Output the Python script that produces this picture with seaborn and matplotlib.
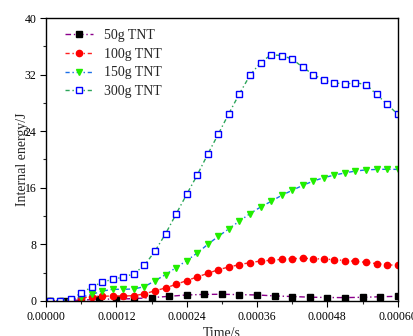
import matplotlib
matplotlib.use("Agg")
import matplotlib.pyplot as plt
from matplotlib.ticker import MultipleLocator, FormatStrFormatter
import numpy as np
import pandas as pd
import seaborn as sns

# Sample times in microseconds
time_us = [6, 24, 42, 60, 78, 96, 114, 132, 150, 168, 186, 204, 222, 240, 258, 276, 294,
           312, 330, 348, 366, 384, 402, 420, 438, 456, 474, 492, 510, 528, 546, 564, 582, 600]
time_us_50g = [6, 30, 60, 90, 120, 150, 180, 210, 240, 270, 300, 330, 360, 390, 420, 450,
               480, 510, 540, 570, 600]

# Internal energy (J) for each charge mass
energy_50g = [0.0, 0.05, 0.12, 0.25, 0.28, 0.33, 0.48, 0.66, 0.85, 0.93, 0.95, 0.9, 0.85,
              0.72, 0.63, 0.54, 0.49, 0.48, 0.52, 0.6, 0.66]
energy_100g = [0.0, 0.02, 0.1, 0.42, 0.6, 0.66, 0.72, 0.7, 0.76, 1.0, 1.45, 1.84, 2.36, 2.88,
               3.4, 3.9, 4.43, 4.8, 5.14, 5.42, 5.65, 5.75, 5.89, 5.99, 6.03, 5.99, 5.92,
               5.85, 5.72, 5.6, 5.46, 5.28, 5.13, 5.02]
energy_150g = [0.0, 0.02, 0.15, 0.55, 0.92, 1.4, 1.65, 1.65, 1.7, 2.03, 2.86, 3.73, 4.72,
               5.7, 6.78, 8.0, 9.14, 10.2, 11.3, 12.34, 13.28, 14.08, 14.93, 15.64, 16.34,
               16.95, 17.43, 17.8, 18.1, 18.37, 18.53, 18.6, 18.62, 18.6]
energy_300g = [0.0, 0.05, 0.25, 1.1, 1.98, 2.65, 3.08, 3.37, 3.85, 5.04, 7.06, 9.5, 12.3,
               15.07, 17.8, 20.76, 23.6, 26.5, 29.3, 31.9, 33.7, 34.8, 34.7, 34.2, 33.05,
               32.0, 31.2, 30.85, 30.65, 30.85, 30.6, 29.2, 27.8, 26.4]

labels = ["50g TNT", "100g TNT", "150g TNT", "300g TNT"]

sns.set_style("ticks")
plt.rcParams["font.family"] = ["Liberation Serif", "DejaVu Serif"]
plt.rcParams["mathtext.fontset"] = "stix"

fig = plt.figure(figsize=(4.14, 3.36), dpi=100)
ax = fig.add_axes([0.1111, 0.1042, 0.8495, 0.8422])

t_main = np.array(time_us) / 1e6
t_50 = np.array(time_us_50g) / 1e6

series = [
    (t_50, energy_50g, labels[0], "#8b008b", "s", "black", "black", 4.0, (0, (4, 2, 1, 2))),
    (t_main, energy_100g, labels[1], "#ff2020", "o", "#ff0000", "#ff0000", 4.5, (0, (3, 2, 1, 2))),
    (t_main, energy_150g, labels[2], "#1a6fe8", "v", "#22ee00", "#22ee00", 5.0, (0, (3, 2, 1, 2))),
    (t_main, energy_300g, labels[3], "#2ca55a", "s", "white", "#0000ff", 3.8, (0, (3, 2, 1, 2))),
]

for t, e, lab, lc, mk, mfc, mec, ms, ls in series:
    df = pd.DataFrame({"t": t, "e": e})
    sns.lineplot(data=df, x="t", y="e", ax=ax, label=lab, color=lc, linewidth=1.0,
                 linestyle=ls, marker=mk, markersize=ms, markerfacecolor=mfc,
                 markeredgecolor=mec, markeredgewidth=1.0, estimator=None, sort=False)

ax.set_xlim(0, 0.0006)
ax.set_ylim(0, 40)
ax.xaxis.set_major_locator(MultipleLocator(0.00012))
ax.xaxis.set_minor_locator(MultipleLocator(0.00006))
ax.xaxis.set_major_formatter(FormatStrFormatter("%.5f"))
ax.yaxis.set_major_locator(MultipleLocator(8))
ax.yaxis.set_minor_locator(MultipleLocator(4))
ax.tick_params(axis="both", which="major", direction="out", length=4, width=0.8,
               labelsize=8.5, pad=3, colors="black")
ax.tick_params(axis="both", which="minor", direction="out", length=2.5, width=0.8)
for sp in ax.spines.values():
    sp.set_visible(True)
    sp.set_linewidth(1.0)
    sp.set_color("black")

ax.set_xlabel("Time/s", fontsize=10, labelpad=3)
ax.set_ylabel("Internal energy/J", fontsize=10, labelpad=-3)

leg = ax.legend(loc="upper left", bbox_to_anchor=(0.055, 0.96), frameon=False,
                fontsize=10, handlelength=2.0, handletextpad=0.8, labelspacing=0.4,
                borderpad=0, borderaxespad=0, numpoints=1)

fig.savefig("out.png", dpi=100)
